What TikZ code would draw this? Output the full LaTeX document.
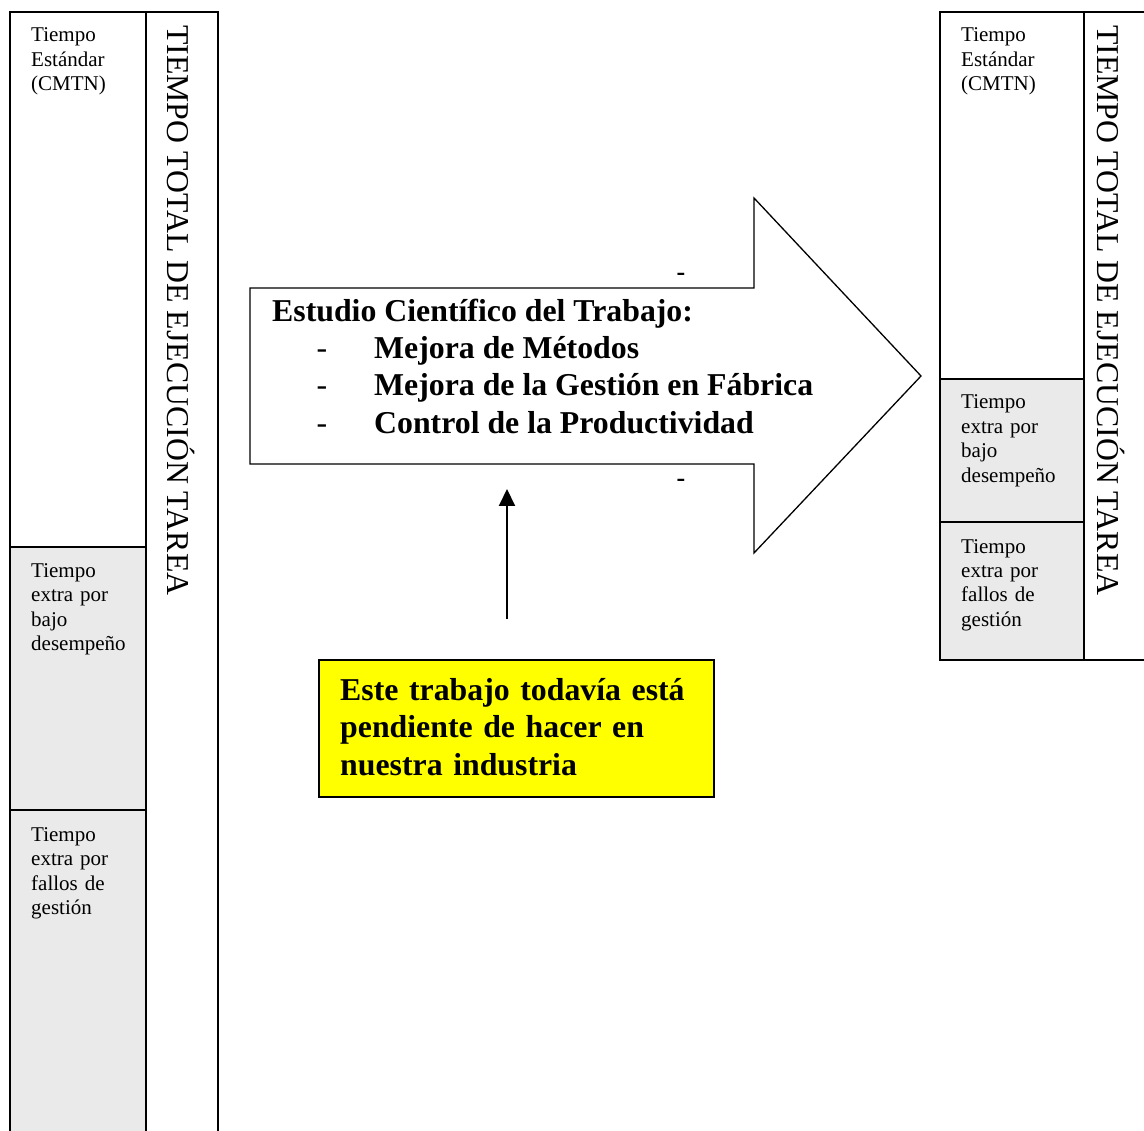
\documentclass[tikz,border=0pt]{standalone}
\usepackage{fontspec}
\setmainfont{Liberation Serif}
\usetikzlibrary{arrows.meta}
\definecolor{cellgray}{HTML}{EAEAEA}
\definecolor{noteyellow}{HTML}{FFFF00}
\tikzset{
  cellline/.style={draw=black,line width=1.6pt},
  celltext/.style={anchor=base west,inner sep=0pt,text width=110pt,align=left,font=\fontsize{21}{24.5}\selectfont},
  vtitle/.style={anchor=base west,inner sep=0pt,rotate=-90,font=\fontsize{31.8}{36}\selectfont},
  boldline/.style={anchor=base west,inner sep=0pt,font=\fontsize{31.8}{37}\selectfont\bfseries},
  dashmark/.style={anchor=base,inner sep=0pt,font=\fontsize{31.8}{37}\selectfont},
  smalldash/.style={anchor=base,inner sep=0pt,font=\fontsize{26}{30}\selectfont\bfseries}
}
\begin{document}
\begin{tikzpicture}[x=1pt,y=-1pt]
\useasboundingbox (0,0) rectangle (1144,1131);
\clip (0,0) rectangle (1144,1131);
% ---------- left column ----------
\fill[cellgray] (10,547) rectangle (146,1140);
\draw[cellline] (10,1140) -- (10,12) -- (218,12) -- (218,1140);
\draw[cellline] (146,12) -- (146,1140);
\draw[cellline] (10,547) -- (146,547);
\draw[cellline] (10,810) -- (146,810);
\node[celltext] (l1) at (31,42) {Tiempo\\Estándar\\(CMTN)};
\node[celltext] (l2) at (31,577) {Tiempo\\extra por\\bajo\\desempeño};
\node[celltext] (l3) at (31,841) {Tiempo\\extra por\\fallos de\\gestión};
\node[vtitle] (lt) at (167,25) {TIEMPO TOTAL DE EJECUCIÓN TAREA};
% ---------- right column ----------
\fill[cellgray] (940,379) rectangle (1084,660);
\draw[cellline] (1150,12) -- (940,12) -- (940,660) -- (1150,660);
\draw[cellline] (1084,12) -- (1084,660);
\draw[cellline] (940,379) -- (1084,379);
\draw[cellline] (940,522) -- (1084,522);
\node[celltext] (r1) at (961,42) {Tiempo\\Estándar\\(CMTN)};
\node[celltext] (r2) at (961,409) {Tiempo\\extra por\\bajo\\desempeño};
\node[celltext] (r3) at (961,553) {Tiempo\\extra por\\fallos de\\gestión};
\node[vtitle] (rt) at (1097,25) {TIEMPO TOTAL DE EJECUCIÓN TAREA};
% ---------- big arrow ----------
\draw[line width=1.3pt,line join=miter] (250,288) -- (754,288) -- (754,198) -- (921,376)
  -- (754,553) -- (754,464) -- (250,464) -- cycle;
\node[boldline] (a0) at (272,322) {Estudio Científico del Trabajo:};
\node[dashmark] (d1) at (322,359) {-};
\node[boldline] (a1) at (374,359) {Mejora de Métodos};
\node[dashmark] (d2) at (322,396) {-};
\node[boldline] (a2) at (374,396) {Mejora de la Gestión en Fábrica};
\node[dashmark] (d3) at (322,434) {-};
\node[boldline] (a3) at (374,434) {Control de la Productividad};
\node[smalldash] (s1) at (681,281) {-};
\node[smalldash] (s2) at (681,487) {-};
% ---------- note ----------
\draw[line width=1.8pt,fill=noteyellow] (319,660) rectangle (714,797);
\node[boldline,text width=360pt,align=left,font=\fontsize{31.8}{37.5}\selectfont\bfseries] (note) at (340,700)
  {Este trabajo todavía está\\pendiente de hacer en\\nuestra industria};
\coordinate (pfrom) at (507,619);
\coordinate (pto) at (507,489);
\draw[line width=2pt,-{Triangle[width=16pt,length=17pt]}] (pfrom) -- (pto);
\end{tikzpicture}
\end{document}
